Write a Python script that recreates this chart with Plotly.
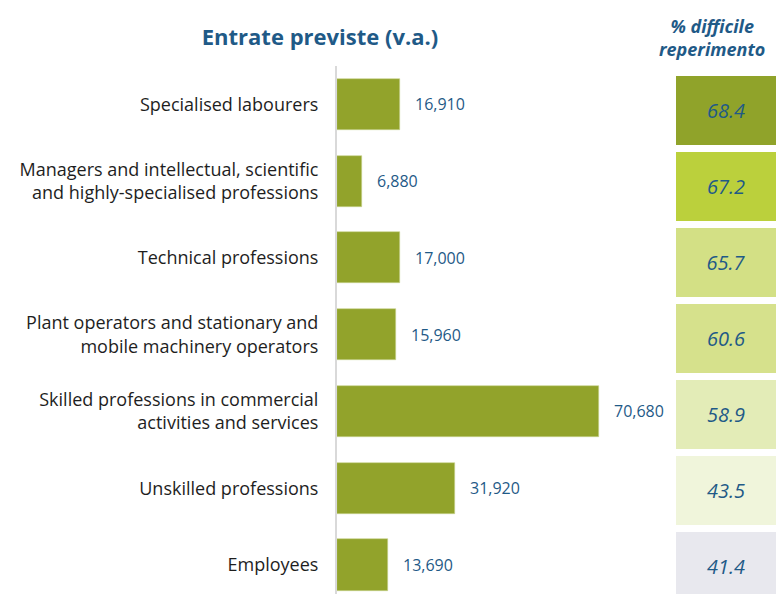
import plotly.graph_objects as go

categories = [
    "Specialised labourers",
    "Managers and intellectual, scientific<br>and highly-specialised professions",
    "Technical professions",
    "Plant operators and stationary and<br>mobile machinery operators",
    "Skilled professions in commercial<br>activities and services",
    "Unskilled professions",
    "Employees",
]
entrate = [16910, 6880, 17000, 15960, 70680, 31920, 13690]
pct_difficile = [68.4, 67.2, 65.7, 60.6, 58.9, 43.5, 41.4]
box_colors = ["#90A32A", "#BBD03C", "#D3E085", "#D6E18C", "#E3ECB7", "#F0F5DB", "#E8E8EE"]

BLUE = "#1F5A87"
FONT = "Open Sans"

W, H = 781, 594
L = 337
PW = W - L

fig = go.Figure()

fig.add_trace(go.Bar(
    y=categories, x=entrate, orientation="h",
    marker=dict(color="#92A32B", line=dict(color="#C9D38F", width=0.6)),
    width=0.665, hoverinfo="skip", showlegend=False,
    xaxis="x", yaxis="y",
))

fig.add_trace(go.Bar(
    y=list(range(len(categories))), x=[1] * len(categories), orientation="h",
    marker=dict(color=box_colors, line=dict(width=0)),
    width=0.909,
    text=[f"{v:.1f}" for v in pct_difficile],
    textposition="inside", insidetextanchor="middle",
    textfont=dict(family=FONT, size=20, color=BLUE, style="italic"),
    hoverinfo="skip", showlegend=False,
    xaxis="x2", yaxis="y2",
))

for cat, v in zip(categories, entrate):
    fig.add_annotation(
        x=v, y=cat, xref="x", yref="y", text=f"{v:,}",
        xanchor="left", yanchor="middle", xshift=13, showarrow=False,
        font=dict(family=FONT, size=16, color=BLUE),
    )

fig.add_annotation(
    x=(712 - L) / PW, y=(594 - 37) / 528, xref="paper", yref="paper",
    text="<b><i>% difficile<br>reperimento</i></b>", showarrow=False,
    xanchor="center", yanchor="middle", align="center",
    font=dict(family=FONT, size=18, color=BLUE),
)

fig.update_layout(
    width=W, height=H,
    margin=dict(l=L, r=0, t=66, b=0, autoexpand=False),
    paper_bgcolor="white", plot_bgcolor="white",
    title=dict(
        text="<b>Entrate previste (v.a.)</b>",
        xref="container", yref="container",
        x=320 / W, y=1 - 37 / H, xanchor="center", yanchor="middle",
        font=dict(family=FONT, size=22, color=BLUE),
    ),
    xaxis=dict(domain=[0, (640 - L) / PW], range=[0, 81800], automargin=False,
               showgrid=False, zeroline=False, showticklabels=False, showline=False),
    xaxis2=dict(domain=[(676 - L) / PW, (776 - L) / PW], range=[0, 1], automargin=False,
                showgrid=False, zeroline=False, showticklabels=False, showline=False),
    yaxis=dict(categoryorder="array", categoryarray=categories, automargin=False,
               range=[6.378, -0.5], showgrid=False, zeroline=False,
               showline=True, linecolor="#D9D9D9", linewidth=2,
               ticks="", ticklabelstandoff=13,
               tickfont=dict(family=FONT, size=18, color="#1E1E1E")),
    yaxis2=dict(overlaying="y", range=[6.368, -0.589], visible=False, automargin=False),
    bargap=0,
)

fig.write_html(
    "out.html",
    config={"displayModeBar": False},
    post_script="document.body.style.margin='0';document.body.style.overflow='hidden';",
)
